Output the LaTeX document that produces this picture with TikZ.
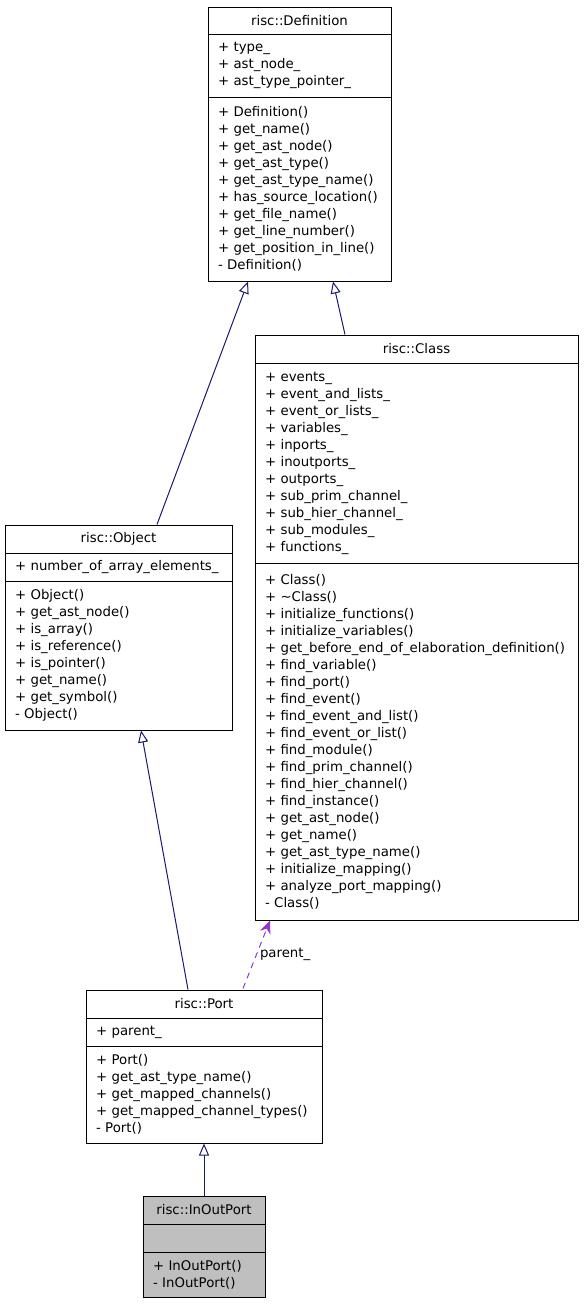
\documentclass[tikz,border=0pt]{standalone}
\usepackage{fontspec}
\setmainfont{DejaVu Sans}
\usetikzlibrary{arrows.meta}
\definecolor{edgeblue}{HTML}{191970}
\definecolor{usepurple}{HTML}{9A32CD}
\definecolor{leafgray}{HTML}{BFBFBF}

\begin{document}
\begin{tikzpicture}[x=1pt, y=-1pt,
  cls/.style={rectangle, draw, line width=1pt, font=\fontsize{13.3}{17}\selectfont, inner sep=0pt},
  members/.style={cls, align=left, inner xsep=10pt},
  inherit/.style={draw=edgeblue, line width=1pt, -{Triangle[open, length=12pt, width=10pt]}},
  uses/.style={draw=usepurple, line width=1pt, dash pattern=on 6pt off 5pt, -{Stealth[length=13pt, width=11pt]}},
  edgelabel/.style={font=\fontsize{13.3}{17}\selectfont, inner sep=3pt},
]
\useasboundingbox (0,0) rectangle (584,1304);

% === risc::Definition ===
\node[cls, minimum width=183pt, minimum height=27pt] (def) at (299.5, 20.5) {risc::Definition};
\node[members, text width=163pt, minimum height=63pt] (defattr) at (299.5, 65.5)
  {+ type\_\\+ ast\_node\_\\+ ast\_type\_pointer\_};
\node[members, text width=163pt, minimum height=184pt] (defops) at (299.5, 189)
  {+ Definition()\\+ get\_name()\\+ get\_ast\_node()\\+ get\_ast\_type()\\+ get\_ast\_type\_name()\\+ has\_source\_location()\\+ get\_file\_name()\\+ get\_line\_number()\\+ get\_position\_in\_line()\\- Definition()};

% === risc::Class ===
\node[cls, minimum width=323pt, minimum height=28pt] (class) at (416.5, 349) {risc::Class};
\node[members, text width=303pt, minimum height=200pt] (classattr) at (416.5, 463)
  {+ events\_\\+ event\_and\_lists\_\\+ event\_or\_lists\_\\+ variables\_\\+ inports\_\\+ inoutports\_\\+ outports\_\\+ sub\_prim\_channel\_\\+ sub\_hier\_channel\_\\+ sub\_modules\_\\+ functions\_};
\node[members, text width=303pt, minimum height=357pt] (classops) at (416.5, 741.5)
  {+ Class()\\+ \textasciitilde Class()\\+ initialize\_functions()\\+ initialize\_variables()\\+ get\_before\_end\_of\_elaboration\_definition()\\+ find\_variable()\\+ find\_port()\\+ find\_event()\\+ find\_event\_and\_list()\\+ find\_event\_or\_list()\\+ find\_module()\\+ find\_prim\_channel()\\+ find\_hier\_channel()\\+ find\_instance()\\+ get\_ast\_node()\\+ get\_name()\\+ get\_ast\_type\_name()\\+ initialize\_mapping()\\+ analyze\_port\_mapping()\\- Class()};

% === risc::Object ===
\node[cls, minimum width=227pt, minimum height=28pt] (obj) at (118.5, 539) {risc::Object};
\node[members, text width=207pt, minimum height=28pt] (objattr) at (118.5, 567)
  {+ number\_of\_array\_elements\_};
\node[members, text width=207pt, minimum height=149pt] (objops) at (118.5, 655.5)
  {+ Object()\\+ get\_ast\_node()\\+ is\_array()\\+ is\_reference()\\+ is\_pointer()\\+ get\_name()\\+ get\_symbol()\\- Object()};

% === risc::Port ===
\node[cls, minimum width=236pt, minimum height=28pt] (port) at (204, 1004) {risc::Port};
\node[members, text width=216pt, minimum height=28pt] (portattr) at (204, 1032)
  {+ parent\_};
\node[members, text width=216pt, minimum height=97pt] (portops) at (204, 1094.5)
  {+ Port()\\+ get\_ast\_type\_name()\\+ get\_mapped\_channels()\\+ get\_mapped\_channel\_types()\\- Port()};

% === risc::InOutPort ===
\node[cls, fill=leafgray, minimum width=122pt, minimum height=28pt] (inout) at (204, 1210) {risc::InOutPort};
\node[members, fill=leafgray, text width=102pt, minimum height=28pt] (inoutattr) at (204, 1238) {};
\node[members, fill=leafgray, text width=102pt, minimum height=45pt] (inoutops) at (204, 1274.5)
  {+ InOutPort()\\- InOutPort()};

% inheritance
\draw[inherit] ([xshift=38.5pt]obj.north) -- ([xshift=-51.5pt]defops.south);
\draw[inherit] ([xshift=-71.5pt]class.north) -- ([xshift=33.5pt]defops.south);
\draw[inherit] ([xshift=-16pt]port.north) -- ([xshift=22.5pt]objops.south);
\draw[inherit] (inout.north) -- (portops.south);

% usage
\draw[uses] ([xshift=39pt, yshift=1pt]port.north) -- node[edgelabel, right] {parent\_} ([xshift=-146.5pt]classops.south);

\end{tikzpicture}
\end{document}
